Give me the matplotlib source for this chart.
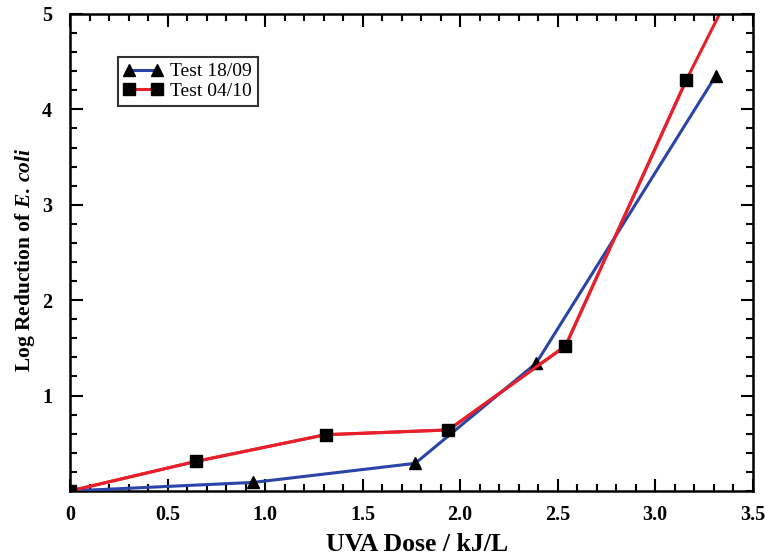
import matplotlib
matplotlib.use("Agg")
from matplotlib import pyplot as plt
from matplotlib.ticker import MultipleLocator

# Test 18/09 (triangles)
dose_1809 = [0.0, 0.94, 1.77, 2.39, 3.31]
logred_1809 = [0.0, 0.09, 0.29, 1.34, 4.35]

# Test 04/10 (squares); the line runs on past the top of the plot
dose_0410 = [0.0, 0.645, 1.31, 1.94, 2.54, 3.16]
logred_0410 = [0.0, 0.31, 0.59, 0.64, 1.52, 4.31]
dose_0410_end = 3.5
logred_0410_end = 5.69

x_ticks = [0, 0.5, 1.0, 1.5, 2.0, 2.5, 3.0, 3.5]
x_labels = ["0", "0.5", "1.0", "1.5", "2.0", "2.5", "3.0", "3.5"]
y_ticks = [1, 2, 3, 4, 5]

plt.rcParams['font.family'] = ['Liberation Serif', 'DejaVu Serif']
plt.rcParams['mathtext.fontset'] = 'custom'
plt.rcParams['mathtext.it'] = 'Liberation Serif:italic:bold'
plt.rcParams['mathtext.rm'] = 'Liberation Serif:bold'

fig = plt.figure(figsize=(7.65, 5.57), dpi=100)
ax = fig.add_axes([0.0915, 0.1185, 0.8925, 0.8565])

blue = '#2a44a8'
red = '#e8202c'

ax.plot(dose_1809, logred_1809, color=blue, lw=2.2, marker='^', ms=9,
        mfc='black', mec='black', label='Test 18/09', zorder=3)
ax.plot(dose_0410 + [dose_0410_end], logred_0410 + [logred_0410_end],
        color=red, lw=2.2, zorder=2)
ax.plot(dose_0410, logred_0410, color=red, lw=2.2, marker='s', ms=8.5,
        mfc='black', mec='black', label='Test 04/10', zorder=4)

ax.set_xlim(0, 3.5)
ax.set_ylim(0, 5)
ax.set_xticks(x_ticks)
ax.set_xticklabels(x_labels)
ax.set_yticks(y_ticks)
ax.xaxis.set_minor_locator(MultipleLocator(0.1))
ax.yaxis.set_minor_locator(MultipleLocator(0.2))
ax.tick_params(which='both', direction='in', top=True, right=True, width=1.5)
ax.tick_params(which='major', length=9, labelsize=14.5)
ax.tick_params(axis='x', which='major', pad=10)
ax.tick_params(axis='y', which='major', pad=13)
ax.tick_params(which='minor', length=5)
for lab in ax.get_xticklabels() + ax.get_yticklabels():
    lab.set_fontweight('bold')
for sp in ax.spines.values():
    sp.set_linewidth(1.8)

ax.set_xlabel('UVA Dose / kJ/L', fontsize=18.5, fontweight='bold')
ax.xaxis.set_label_coords(0.508, -0.088)
ax.set_ylabel(r'Log Reduction of $\mathit{E.\,coli}$', fontsize=15.5,
              fontweight='bold')
ax.yaxis.set_label_coords(-0.048, 0.485)

leg = ax.legend(loc='upper left', bbox_to_anchor=(0.07, 0.91), numpoints=2,
                fontsize=14, frameon=True, fancybox=False, handlelength=2.0,
                borderpad=0.3, labelspacing=0.1, handletextpad=0.4,
                borderaxespad=0)
leg.get_frame().set_edgecolor('black')
leg.get_frame().set_linewidth(1.5)

fig.savefig('out.png', dpi=100)
